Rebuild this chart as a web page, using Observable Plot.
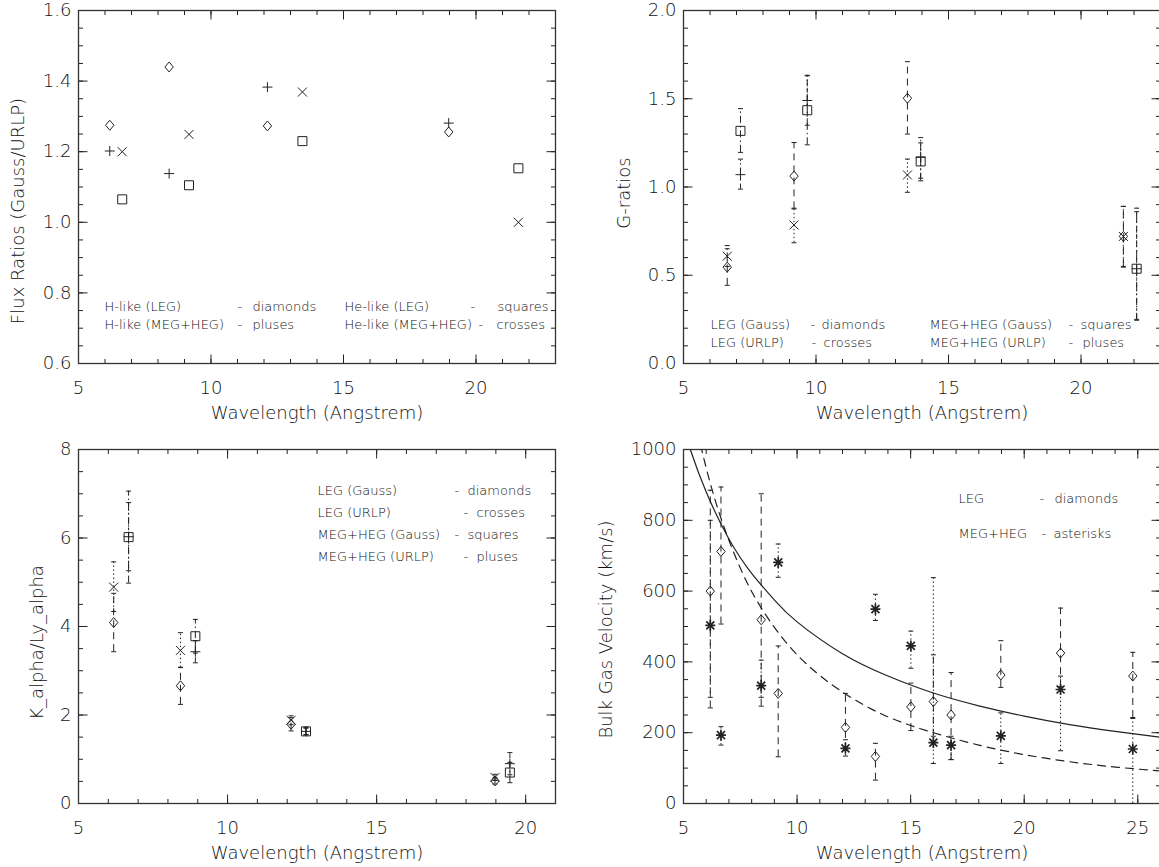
<!DOCTYPE html>
<html>
<head>
<meta charset="utf-8">
<script src="https://cdn.jsdelivr.net/npm/d3@7"></script>
<script src="https://cdn.jsdelivr.net/npm/@observablehq/plot@0.6"></script>
<style>
  html, body { margin: 0; padding: 0; background: #fff; overflow: hidden; }
  #wrap { position: relative; width: 1159px; height: 867px; overflow: hidden; background: #fff; }
  #wrap > div, #wrap > svg { position: absolute; }
  #wrap text { font-weight: 200; }
</style>
</head>
<body>
<div id="wrap"></div>
<script>
// ---------------- DATA ----------------
// Panel 1: flux ratios (Gauss/URLP)
const hLikeWave = [6.18, 8.42, 12.13, 18.97];
const heLikeWave = [6.65, 9.17, 13.45, 21.6];
const fluxHLeg = [1.275, 1.44, 1.273, 1.256];   // diamonds
const fluxHMeg = [1.202, 1.138, 1.383, 1.281];  // pluses
const fluxHeLeg = [1.065, 1.105, 1.23, 1.153];  // squares
const fluxHeMeg = [1.20, 1.249, 1.369, 1.00];   // crosses

// Panel 2: G-ratios
const gLegWave = [6.65, 9.17, 13.45, 21.6];
const gMegWave = [7.15, 9.67, 13.95, 22.1];
const gDiaVal = [0.546, 1.062, 1.503, 0.72];
const gDiaLo  = [0.443, 0.876, 1.30, 0.55];
const gDiaHi  = [0.65, 1.252, 1.71, 0.89];
const gCrsVal = [0.608, 0.785, 1.068, 0.72];
const gCrsLo  = [0.55, 0.684, 0.97, 0.546];
const gCrsHi  = [0.668, 0.88, 1.158, 0.89];
const gSqVal  = [1.318, 1.435, 1.145, 0.537];
const gSqLo   = [1.196, 1.239, 1.035, 0.245];
const gSqHi   = [1.444, 1.633, 1.28, 0.88];
const gPlsVal = [1.07, 1.49, 1.168, 0.537];
const gPlsLo  = [0.988, 1.35, 1.05, 0.25];
const gPlsHi  = [1.158, 1.63, 1.25, 0.86];

// Panel 3: K_alpha / Ly_alpha
const kLegWave = [6.18, 8.42, 12.13, 18.97];
const kMegWave = [6.68, 8.92, 12.63, 19.47];
const kDiaVal = [4.09, 2.66, 1.79, 0.51];
const kDiaLo  = [3.43, 2.24, 1.64, 0.44];
const kDiaHi  = [4.75, 3.08, 1.94, 0.58];
const kCrsVal = [4.89, 3.46, 1.88, 0.59];
const kCrsLo  = [4.34, 3.07, 1.78, 0.52];
const kCrsHi  = [5.46, 3.86, 1.98, 0.66];
const kSqVal  = [6.02, 3.78, 1.63, 0.70];
const kSqLo   = [4.98, 3.40, 1.55, 0.47];
const kSqHi   = [7.06, 4.16, 1.72, 0.93];
const kPlsVal = [6.03, 3.43, 1.63, 0.90];
const kPlsLo  = [5.26, 3.18, 1.56, 0.65];
const kPlsHi  = [6.80, 3.68, 1.70, 1.15];

// Panel 4: bulk gas velocity
const velWave = [6.18, 6.65, 8.42, 9.17, 12.13, 13.45, 15.01, 16.0, 16.78, 18.97, 21.6, 24.78];
const vLegVal = [600, 712, 519, 311, 215, 133, 273, 288, 250, 363, 425, 360];
const vLegLo  = [270, 507, 275, 132, 150, 66, 206, 190, 124, 328, 330, 243];
const vLegHi  = [885, 894, 875, 445, 311, 170, 340, 420, 370, 460, 552, 427];
const vMegVal = [503, 193, 333, 681, 156, 549, 445, 172, 165, 191, 322, 154];
const vMegLo  = [300, 165, 300, 639, 134, 517, 382, 113, 124, 113, 149, 0];
const vMegHi  = [800, 217, 405, 733, 180, 591, 487, 638, 190, 256, 360, 240];
const solidWave = [5.0, 5.3, 6, 7, 8, 9, 10, 12, 14, 16, 18, 20, 22, 24, 26];
const solidVel  = [1065, 1000, 880, 747, 650, 575, 513, 423, 360, 312, 276, 247, 223, 204, 187];
const dashWave = [5.5, 5.8, 6.5, 7.5, 8.5, 10, 12, 14, 16, 18, 20, 22, 24, 26];
const dashVel  = [1090, 1000, 835, 665, 545, 420, 315, 245, 200, 165, 138, 118, 103, 92];

// Ticks
const p1XTicks = [5, 10, 15, 20];
const p1YTicks = [0.6, 0.8, 1.0, 1.2, 1.4, 1.6];
const p1YLabels = ["0.6", "0.8", "1.0", "1.2", "1.4", "1.6"];
const p2XTicks = [5, 10, 15, 20];
const p2YTicks = [0, 0.5, 1.0, 1.5, 2.0];
const p2YLabels = ["0.0", "0.5", "1.0", "1.5", "2.0"];
const p3XTicks = [5, 10, 15, 20];
const p3YTicks = [0, 2, 4, 6, 8];
const p3YLabels = ["0", "2", "4", "6", "8"];
const p4XTicks = [5, 10, 15, 20, 25];
const p4YTicks = [0, 200, 400, 600, 800, 1000];
const p4YLabels = ["0", "200", "400", "600", "800", "1000"];
const xTitle = "Wavelength (Angstrem)";

// ---------------- HELPERS ----------------
const FONT = "'DejaVu Sans', 'Liberation Sans', sans-serif";
const INK = "#222";
const TXT = "#111";
const sym = f => ({ draw(ctx) { f(ctx); } });
const segs = list => sym(ctx => { for (const [a, b, c, d] of list) { ctx.moveTo(a, b); ctx.lineTo(c, d); } });
const diamondSym = sym(ctx => { ctx.moveTo(0, -5); ctx.lineTo(4.2, 0); ctx.lineTo(0, 5); ctx.lineTo(-4.2, 0); ctx.closePath(); });
const squareSym = sym(ctx => { ctx.rect(-4.5, -4.5, 9, 9); });
const plusSym = segs([[-5, 0, 5, 0], [0, -5, 0, 5]]);
const crossSym = segs([[-4.5, -4.5, 4.5, 4.5], [-4.5, 4.5, 4.5, -4.5]]);
const asteriskSym = segs([[-5, 0, 5, 0], [0, -5.5, 0, 5.5], [-4, -4, 4, 4], [-4, 4, 4, -4]]);
const capSym = segs([[-2.5, 0, 2.5, 0]]);
const MAJ = 9, MIN = 4.5;

function rows(w, v, lo, hi) {
  return w.map((x, i) => ({ w: x, v: v[i], lo: lo ? lo[i] : null, hi: hi ? hi[i] : null }));
}
function points(data, symbol, sw = 1) {
  return Plot.dot(data, { x: "w", y: "v", symbol, fill: "none", stroke: INK, strokeWidth: sw });
}
function errbars(data, dash) {
  return [
    Plot.ruleX(data, { x: "w", y1: "lo", y2: "hi", stroke: INK, strokeWidth: 1, strokeDasharray: dash }),
    Plot.dot(data, { x: "w", y: "lo", symbol: capSym, fill: "none", stroke: INK, strokeWidth: 1 }),
    Plot.dot(data, { x: "w", y: "hi", symbol: capSym, fill: "none", stroke: INK, strokeWidth: 1 })
  ];
}
function axisMarks(xMajor, xMinor, yMajor, yMinor) {
  const t = (data, ch, anchor, s) => Plot.dot(data, { [ch]: d => d, frameAnchor: anchor, symbol: s, fill: "none", stroke: INK, strokeWidth: 1 });
  return [
    t(xMajor, "x", "bottom", segs([[0, 0, 0, -MAJ]])),
    t(xMinor, "x", "bottom", segs([[0, 0, 0, -MIN]])),
    t(xMajor, "x", "top", segs([[0, 0, 0, MAJ]])),
    t(xMinor, "x", "top", segs([[0, 0, 0, MIN]])),
    t(yMajor, "y", "left", segs([[0, 0, MAJ, 0]])),
    t(yMinor, "y", "left", segs([[0, 0, MIN, 0]])),
    t(yMajor, "y", "right", segs([[0, 0, -MAJ, 0]])),
    t(yMinor, "y", "right", segs([[0, 0, -MIN, 0]])),
    Plot.frame({ stroke: "#333", strokeWidth: 1.3 })
  ];
}
function labelMarks(xTicks, yTicks, yLabels, yTitle, tdx, tdy) {
  return [
    Plot.text(xTicks, { x: d => d, text: d => String(d), frameAnchor: "bottom", dy: 25, textAnchor: "middle", lineAnchor: "middle", fontSize: 18, fill: TXT }),
    Plot.text(yTicks, { y: d => d, text: (d, i) => yLabels[i], frameAnchor: "left", dx: -7, textAnchor: "end", lineAnchor: "middle", fontSize: 18, fill: TXT }),
    Plot.text([xTitle], { text: d => d, frameAnchor: "bottom", dy: 50, textAnchor: "middle", lineAnchor: "middle", fontSize: 18, fill: TXT }),
    Plot.text([yTitle], { text: d => d, frameAnchor: "left", dx: tdx, dy: tdy, rotate: -90, textAnchor: "middle", lineAnchor: "middle", fontSize: 18, fill: TXT })
  ];
}
function legendMarks(items, ox, oy) {
  return items.map(([x, y, s]) => Plot.text([s], { text: d => d, frameAnchor: "top-left", dx: x - ox, dy: y - oy, textAnchor: "start", lineAnchor: "middle", fontSize: 13, fill: TXT }));
}
function place(svg, left, top) {
  svg.style.left = left + "px";
  svg.style.top = top + "px";
  document.getElementById("wrap").appendChild(svg);
}
const minor = (a, b, step) => d3.range(a, b + step / 2, step).map(v => +v.toFixed(4));

// ---------------- PANEL 1 ----------------
{
  const svg = Plot.plot({
    width: 580, height: 430, marginLeft: 78, marginRight: 25, marginTop: 10, marginBottom: 67,
    x: { domain: [5, 23], axis: null }, y: { domain: [0.6, 1.6], axis: null },
    style: { fontFamily: FONT, background: "transparent" },
    marks: [
      ...axisMarks(p1XTicks, minor(5, 23, 1), p1YTicks, minor(0.6, 1.6, 0.05)),
      ...labelMarks(p1XTicks, p1YTicks, p1YLabels, "Flux Ratios (Gauss/URLP)", -60, 24),
      points(rows(hLikeWave, fluxHLeg), diamondSym),
      points(rows(hLikeWave, fluxHMeg), plusSym),
      points(rows(heLikeWave, fluxHeLeg), squareSym),
      points(rows(heLikeWave, fluxHeMeg), crossSym),
      ...legendMarks([
        [104, 306, "H-like (LEG)"], [237, 306, "-"], [252, 306, "diamonds"],
        [344, 306, "He-like (LEG)"], [470, 306, "-"], [497, 306, "squares"],
        [104, 324, "H-like (MEG+HEG)"], [237, 324, "-"], [252, 324, "pluses"],
        [344, 324, "He-like (MEG+HEG)"], [478, 324, "-"], [496, 324, "crosses"]
      ], 78, 10)
    ]
  });
  place(svg, 0, 0);
}

// ---------------- PANEL 2 ----------------
{
  const dia = rows(gLegWave, gDiaVal, gDiaLo, gDiaHi);
  const crs = rows(gLegWave, gCrsVal, gCrsLo, gCrsHi);
  const sq = rows(gMegWave, gSqVal, gSqLo, gSqHi);
  const pls = rows(gMegWave, gPlsVal, gPlsLo, gPlsHi);
  const svg = Plot.plot({
    width: 600, height: 430, marginLeft: 103, marginRight: 20, marginTop: 10, marginBottom: 67,
    x: { domain: [5, 23], axis: null }, y: { domain: [0, 2], axis: null },
    style: { fontFamily: FONT, background: "transparent" },
    marks: [
      ...axisMarks(p2XTicks, minor(5, 23, 1), p2YTicks, minor(0, 2, 0.1)),
      ...labelMarks(p2XTicks, p2YTicks, p2YLabels, "G-ratios", -59, 6),
      ...errbars(dia, "7,5"),
      ...errbars(crs, "1.5,2.5"),
      ...errbars(sq, "7,3,1.5,3"),
      ...errbars(pls, "5,3,1.5,2,1.5,3"),
      points(dia, diamondSym), points(crs, crossSym), points(sq, squareSym), points(pls, plusSym),
      ...legendMarks([
        [710, 324, "LEG (Gauss)"], [810, 324, "-"], [821, 324, "diamonds"],
        [929, 324, "MEG+HEG (Gauss)"], [1068, 324, "-"], [1080, 324, "squares"],
        [710, 342, "LEG (URLP)"], [811, 342, "-"], [823, 342, "crosses"],
        [929, 342, "MEG+HEG (URLP)"], [1068, 342, "-"], [1082, 342, "pluses"]
      ], 683, 10)
    ]
  });
  place(svg, 580, 0);
}

// ---------------- PANEL 3 ----------------
{
  const dia = rows(kLegWave, kDiaVal, kDiaLo, kDiaHi);
  const crs = rows(kLegWave, kCrsVal, kCrsLo, kCrsHi);
  const sq = rows(kMegWave, kSqVal, kSqLo, kSqHi);
  const pls = rows(kMegWave, kPlsVal, kPlsLo, kPlsHi);
  const svg = Plot.plot({
    width: 580, height: 437, marginLeft: 78, marginRight: 25, marginTop: 19, marginBottom: 64,
    x: { domain: [5, 21], axis: null }, y: { domain: [0, 8], axis: null },
    style: { fontFamily: FONT, background: "transparent" },
    marks: [
      ...axisMarks(p3XTicks, minor(5, 21, 1), p3YTicks, minor(0, 8, 0.5)),
      ...labelMarks(p3XTicks, p3YTicks, p3YLabels, "K_alpha/Ly_alpha", -41, 16),
      ...errbars(dia, "7,5"),
      ...errbars(crs, "1.5,2.5"),
      ...errbars(sq, "7,3,1.5,3"),
      ...errbars(pls, "5,3,1.5,2,1.5,3"),
      points(dia, diamondSym), points(crs, crossSym), points(sq, squareSym), points(pls, plusSym),
      ...legendMarks([
        [317, 490, "LEG (Gauss)"], [454, 490, "-"], [467, 490, "diamonds"],
        [317, 512, "LEG (URLP)"], [463, 512, "-"], [476, 512, "crosses"],
        [317, 534, "MEG+HEG (Gauss)"], [454, 534, "-"], [467, 534, "squares"],
        [317, 556, "MEG+HEG (URLP)"], [463, 556, "-"], [476, 556, "pluses"]
      ], 78, 449)
    ]
  });
  place(svg, 0, 430);
}

// ---------------- PANEL 4 ----------------
{
  const leg = rows(velWave, vLegVal, vLegLo, vLegHi);
  const meg = rows(velWave, vMegVal, vMegLo, vMegHi);
  const solid = solidWave.map((w, i) => ({ w, v: solidVel[i] }));
  const dashed = dashWave.map((w, i) => ({ w, v: dashVel[i] }));
  const svg = Plot.plot({
    width: 600, height: 437, marginLeft: 103, marginRight: 20, marginTop: 19, marginBottom: 64,
    x: { domain: [5, 26], axis: null }, y: { domain: [0, 1000], axis: null },
    style: { fontFamily: FONT, background: "transparent" },
    marks: [
      Plot.line(solid, { x: "w", y: "v", curve: "natural", clip: true, stroke: INK, strokeWidth: 1.2 }),
      Plot.line(dashed, { x: "w", y: "v", curve: "natural", clip: true, stroke: INK, strokeWidth: 1.2, strokeDasharray: "8,6" }),
      ...axisMarks(p4XTicks, minor(5, 26, 1), p4YTicks, minor(0, 1000, 50)),
      ...labelMarks(p4XTicks, p4YTicks, p4YLabels, "Bulk Gas Velocity (km/s)", -77, 3),
      ...errbars(leg, "7,5"),
      ...errbars(meg, "1.5,2.5"),
      points(leg, diamondSym),
      points(meg, asteriskSym, 1.7),
      ...legendMarks([
        [958, 498, "LEG"], [1039, 498, "-"], [1054, 498, "diamonds"],
        [958, 533, "MEG+HEG"], [1041, 533, "-"], [1053, 533, "asterisks"]
      ], 683, 449)
    ]
  });
  place(svg, 580, 430);
}
</script>
</body>
</html>
